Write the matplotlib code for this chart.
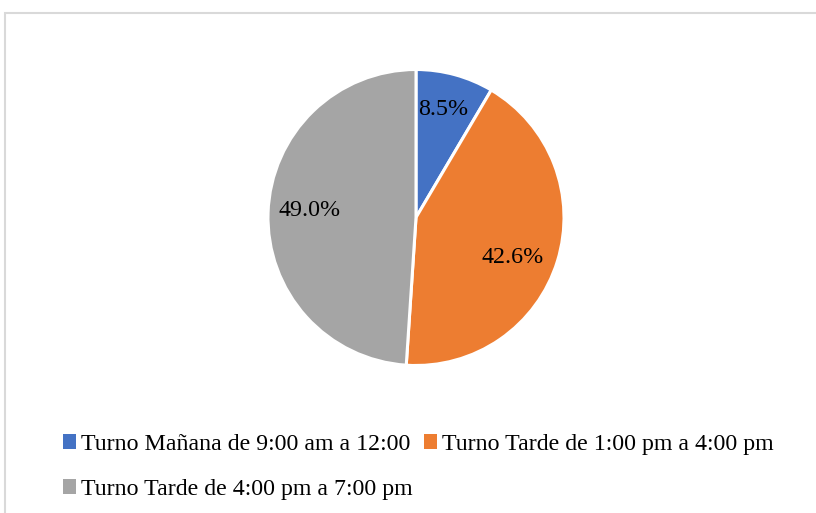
import numpy as np
import matplotlib
matplotlib.use("Agg")
import matplotlib.pyplot as plt
from matplotlib.patches import Patch, Rectangle

plt.rcParams['font.family'] = ['Liberation Serif', 'DejaVu Serif']

categories = [
    "Turno Mañana de 9:00 am a 12:00",
    "Turno Tarde de 1:00 pm a 4:00 pm",
    "Turno Tarde de 4:00 pm a 7:00 pm",
]
shares = [8.5, 42.6, 49.0]
colors = ["#4472C4", "#ED7D31", "#A5A5A5"]

W, H = 816, 513
fig = plt.figure(figsize=(W / 100, H / 100), dpi=100)

# light frame around the chart area
fig.add_artist(Rectangle((5 / W, -0.1), 1.2, (H - 13) / H + 0.1,
                         transform=fig.transFigure, fill=False,
                         edgecolor="#D9D9D9", linewidth=1.5))

# pie axes: centre (416, 217) px, radius 148 px
cx, cy, r = 416, 217.5, 148
lim = 1.05
half = r * lim
ax = fig.add_axes([(cx - half) / W, (H - cy - half) / H, 2 * half / W, 2 * half / H])
wedges, texts, autotexts = ax.pie(
    shares, colors=colors, startangle=90, counterclock=False,
    autopct=lambda p: f"{p:.1f}%", pctdistance=0.73,
    wedgeprops=dict(edgecolor="white", linewidth=2.2),
    textprops=dict(fontsize=17.3, color="black"),
)

# nudge percentage labels along the arc (degrees) and radially
angle_shift = [1.5, -4.0, -3.5]
radial = [0.77, 0.70, 0.72]
for w, t, da, rd in zip(wedges, autotexts, angle_shift, radial):
    mid = np.deg2rad((w.theta1 + w.theta2) / 2 + da)
    t.set_position((rd * np.cos(mid), rd * np.sin(mid) - 0.02))

ax.set_xlim(-lim, lim)
ax.set_ylim(-lim, lim)
ax.set_aspect("equal")

order = [0, 2, 1]
handles = [Patch(facecolor=colors[i], edgecolor="none") for i in order]
labels = [categories[i] for i in order]
fig.legend(handles, labels, ncol=2, loc="upper left",
           bbox_to_anchor=(63 / W, 1 - 434 / H), frameon=False,
           fontsize=17.2, handlelength=0.56, handleheight=0.56,
           handletextpad=0.2, columnspacing=0.45, labelspacing=1.0,
           borderpad=0, borderaxespad=0)

fig.savefig("out.png", dpi=100, facecolor="white")
